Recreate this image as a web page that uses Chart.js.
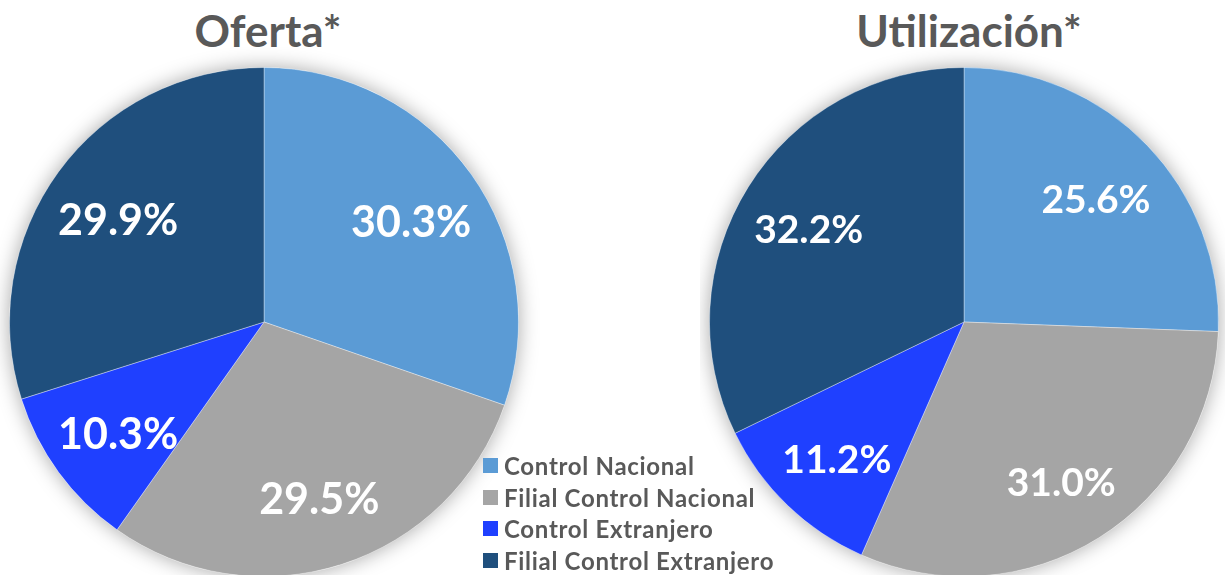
<!DOCTYPE html>
<html><head><meta charset="utf-8">
<script src="https://cdn.jsdelivr.net/npm/chart.js@4.4.1/dist/chart.umd.min.js"></script>
<style>
html,body{margin:0;padding:0;background:#fff;width:1225px;height:575px;overflow:hidden;font-family:Lato,sans-serif}
.title{position:absolute;top:2px;font-weight:700;font-size:44px;line-height:56px;color:#595959;text-align:center;width:400px}
canvas{position:absolute}
#legend{position:absolute;left:483px;top:450px;z-index:5}
.item{display:flex;align-items:center;height:31.5px;font-weight:700;font-size:24px;letter-spacing:0.7px;color:#595959;white-space:nowrap}
.sw{width:15px;height:15px;margin-right:6px;flex:none}
</style></head>
<body>
<div class="title" id="t1" style="left:68px"></div>
<div class="title" id="t2" style="left:769px"></div>
<div style="position:absolute;left:0;top:47px;width:540px;height:570px"><canvas id="c1" width="540" height="570"></canvas></div>
<div style="position:absolute;left:700px;top:47px;width:540px;height:570px"><canvas id="c2" width="540" height="570"></canvas></div>
<div id="legend"></div>
<script>
const categories = ["Control Nacional", "Filial Control Nacional", "Control Extranjero", "Filial Control Extranjero"];
const colors = ["#5B9BD5", "#A5A5A5", "#1F40FF", "#1F4F7D"];
const titles = ["Oferta*", "Utilización*"];
const oferta = [30.3, 29.5, 10.3, 29.9];
const utilizacion = [25.6, 31.0, 11.2, 32.2];

document.getElementById('t1').textContent = titles[0];
document.getElementById('t2').textContent = titles[1];
const lg = document.getElementById('legend');
categories.forEach((c, i) => {
  const d = document.createElement('div'); d.className = 'item';
  const s = document.createElement('span'); s.className = 'sw'; s.style.background = colors[i];
  const t = document.createElement('span'); t.textContent = c;
  d.appendChild(s); d.appendChild(t); lg.appendChild(d);
});

const shadowPlugin = {
  id: 'shadow',
  beforeDatasetsDraw(chart) {
    const a = chart.getDatasetMeta(0).data[0];
    if (!a) return;
    const ctx = chart.ctx;
    ctx.save();
    ctx.shadowColor = 'rgba(0,0,0,0.35)';
    ctx.shadowBlur = 20;
    ctx.fillStyle = '#fff';
    ctx.beginPath(); ctx.arc(a.x, a.y, a.outerRadius, 0, Math.PI * 2); ctx.fill();
    ctx.restore();
  }
};
const labelPlugin = {
  id: 'lbl',
  afterDatasetsDraw(chart, args, opts) {
    const ctx = chart.ctx;
    const ds = chart.data.datasets[0];
    chart.getDatasetMeta(0).data.forEach((a, i) => {
      const mid = (a.startAngle + a.endAngle) / 2;
      const r = a.outerRadius * opts.frac;
      ctx.save();
      ctx.fillStyle = '#fff';
      ctx.font = '700 ' + opts.size + 'px Lato';
      ctx.textAlign = 'center'; ctx.textBaseline = 'middle';
      ctx.fillText(ds.data[i].toFixed(1) + '%', a.x + r * Math.cos(mid), a.y + r * Math.sin(mid) + opts.dy);
      ctx.restore();
    });
  }
};
function make(id, data, frac, size, dy) {
  return new Chart(document.getElementById(id), {
    type: 'pie',
    data: { labels: categories, datasets: [{ data: data, backgroundColor: colors, borderColor: 'rgba(255,255,255,0.35)', borderWidth: 1, hoverOffset: 0 }] },
    options: {
      responsive: false, animation: false, events: [],
      layout: { padding: { left: 9, right: 21, top: 20, bottom: 40 } },
      plugins: { legend: { display: false }, tooltip: { enabled: false }, title: { display: false }, lbl: { frac: frac, size: size, dy: dy } }
    },
    plugins: [shadowPlugin, labelPlugin]
  });
}
make('c1', oferta, 0.71, 43, 6);
make('c2', utilizacion, 0.72, 39, 6);
</script>
</body></html>
